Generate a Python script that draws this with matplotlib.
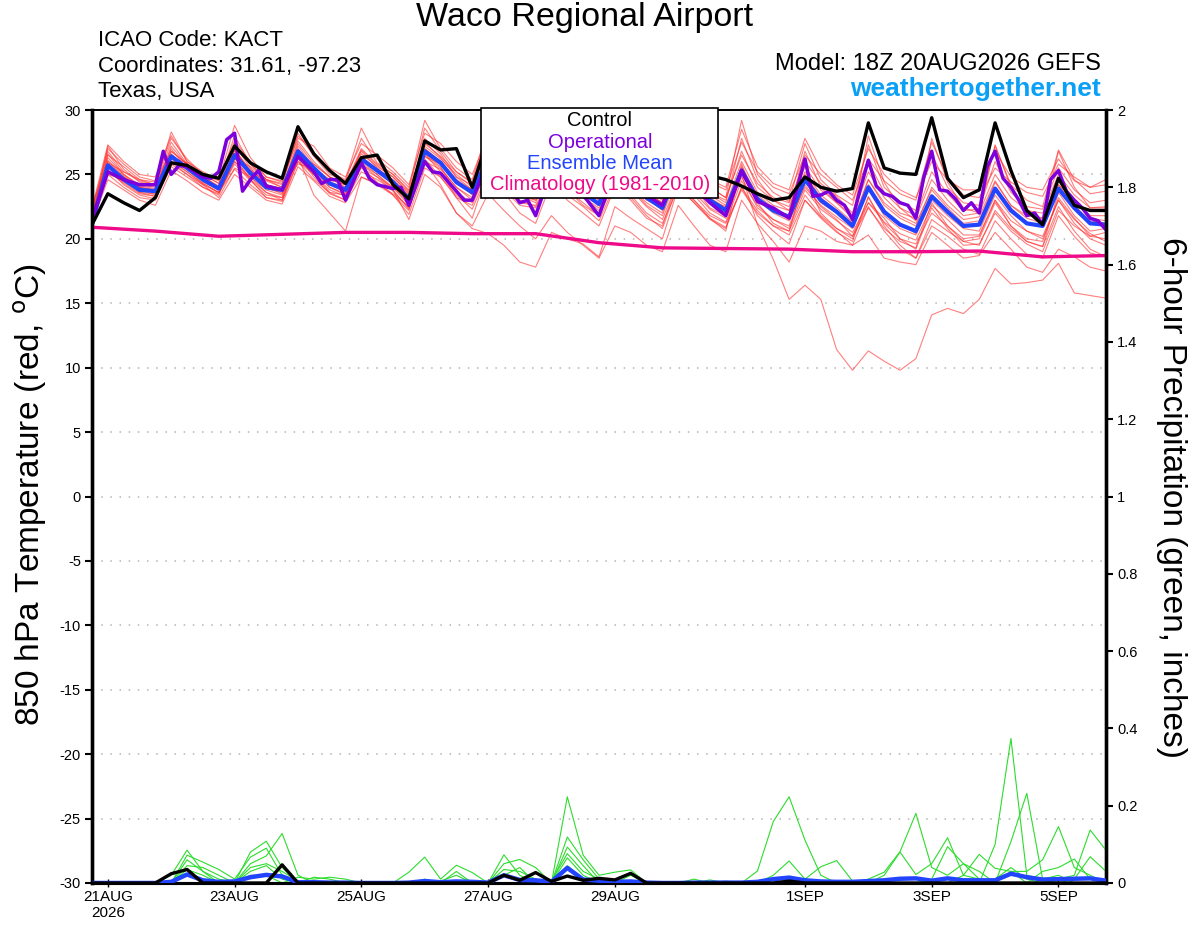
import matplotlib
matplotlib.use("Agg")
import matplotlib.pyplot as plt
import numpy as np
from matplotlib.patches import Rectangle

plt.rcParams["font.family"] = ["Liberation Sans", "DejaVu Sans"]
plt.rcParams["axes.unicode_minus"] = False

# 6-hourly steps from 18Z 20AUG2026 (hours since run start)
n_steps = 65
hours = np.arange(n_steps) * 6

tick_hours = [6, 54, 102, 150, 198, 270, 318, 366]
tick_labels = ["21AUG\n2026", "23AUG", "25AUG", "27AUG", "29AUG", "1SEP", "3SEP", "5SEP"]

# 850 hPa temperature (C)
control_temp = [21.1,
                23.5, 22.8, 22.2, 23.2, 25.9, 25.7, 25.0, 24.7, 27.2, 25.9, 25.2, 24.7, 28.7, 26.6, 25.3, 24.3,
                26.3, 26.5, 24.2, 23.1, 27.6, 26.9, 27.0, 24.0, 27.8, 26.5, 25.5, 25.0, 26.5, 25.8, 25.2, 24.8,
                26.8, 26.0, 25.6, 25.2, 26.2, 25.5, 24.9, 24.6, 24.1, 23.5, 23.0, 23.2, 24.8, 24.0, 23.7, 23.9,
                29.0, 25.5, 25.1, 25.0, 29.4, 24.7, 23.2, 23.8, 29.0, 25.3, 22.2, 21.1, 24.7, 22.6, 22.2, 22.2]

mean_temp = [21.2,
             25.7, 24.6, 23.8, 23.7, 26.4, 25.5, 24.6, 23.9, 26.5, 25.1, 24.0, 23.8, 26.8, 25.5, 24.3, 23.8,
             26.2, 25.3, 24.4, 23.1, 26.8, 25.9, 24.4, 23.6, 26.3, 25.0, 23.8, 23.4, 25.6, 24.6, 23.6, 22.7,
             25.6, 24.6, 23.2, 22.4, 25.6, 24.2, 23.0, 22.2, 25.3, 23.1, 22.2, 21.7, 24.6, 23.0, 22.1, 21.0,
             24.0, 22.1, 21.1, 20.6, 23.3, 22.1, 21.0, 21.1, 23.9, 22.2, 21.2, 21.0, 23.9, 22.4, 21.2, 21.1]

op_hours = [0, 6, 12, 18, 24, 27, 30, 33, 36, 42, 45, 48, 51, 54, 57, 60, 63, 66, 72, 78, 84, 87, 90, 93,
            96, 102, 105, 108, 114, 117, 120, 126, 129, 132, 138, 141, 144, 150, 156, 162, 165, 168, 174,
            180, 186, 192, 198, 204, 210, 216, 222, 228, 234, 240, 246, 252, 258, 264, 270, 273, 276, 279,
            282, 285, 288, 291, 294, 297, 300, 303, 306, 309, 312, 315, 318, 321, 324, 327, 330, 333, 336,
            339, 342, 345, 348, 351, 354, 357, 360, 363, 366, 369, 372, 375, 378, 381, 384]
op_temp = [21.5, 25.2, 24.6, 24.2, 24.2, 26.8, 25.0, 25.7, 25.6, 24.8, 24.7, 25.2, 27.7, 28.2, 23.7, 24.6,
           25.3, 24.1, 23.8, 26.4, 25.2, 24.3, 24.6, 24.6, 23.0, 25.9, 24.7, 24.2, 23.9, 24.0, 22.6, 26.0,
           25.2, 25.1, 23.7, 23.0, 23.0, 26.0, 24.6, 22.8, 23.0, 21.8, 25.4, 24.4, 23.4, 21.8, 25.3, 24.3,
           23.4, 22.6, 25.7, 24.0, 22.8, 21.8, 25.3, 22.9, 22.4, 21.6, 26.2, 23.3, 23.4, 23.7, 23.0, 22.6,
           21.5, 23.9, 26.1, 24.1, 23.5, 23.3, 22.8, 22.6, 21.6, 24.8, 26.8, 23.8, 23.7, 23.1, 22.2, 22.8,
           22.0, 25.6, 26.8, 24.7, 24.0, 23.0, 21.8, 22.0, 21.1, 24.6, 25.3, 23.7, 23.0, 22.4, 21.6, 21.4,
           20.7]

clim_hours = [0, 24, 48, 72, 96, 120, 144, 168, 192, 216, 240, 264, 288, 312, 336, 360, 384]
clim_temp = [20.9, 20.6, 20.2, 20.35, 20.5, 20.5, 20.4, 20.4, 19.7, 19.3, 19.25, 19.2, 19.0, 19.0, 19.05,
             18.6, 18.7]

# ensemble members (temperature)
t01 = [21.6, 27.2, 25.4, 24.4, 24.1, 28.3, 26.0, 25.0, 24.3, 28.0, 25.8, 24.6, 24.2, 28.2, 26.4, 25.0, 24.5,
       27.8, 25.9, 25.0, 23.8, 28.6, 26.8, 25.2, 24.4, 28.2, 26.0, 24.6, 24.0, 27.5, 25.6, 24.4, 23.6,
       28.3, 25.9, 24.2, 23.5, 27.6, 25.3, 24.0, 23.2, 29.2, 25.0, 23.6, 22.9, 27.4, 24.6, 23.4, 22.6,
       27.3, 24.0, 22.9, 22.2, 26.6, 24.0, 22.8, 22.6, 27.2, 24.2, 23.0, 22.5, 26.9, 24.6, 23.5, 23.7]
t02 = [21.3, 25.0, 24.0, 23.2, 23.0, 26.0, 25.0, 24.0, 23.4, 26.3, 24.6, 23.6, 23.2, 26.4, 23.4, 22.0, 20.6,
       24.8, 24.3, 23.5, 22.5, 26.0, 25.4, 24.0, 23.0, 25.5, 24.2, 23.0, 22.5, 24.6, 23.8, 22.8, 21.8,
       24.8, 23.8, 22.5, 21.5, 24.5, 23.4, 22.0, 21.3, 24.5, 22.6, 21.5, 20.8, 23.8, 22.3, 21.4, 20.5,
       22.8, 21.3, 20.4, 19.9, 22.6, 21.5, 20.3, 20.3, 23.0, 21.4, 20.6, 20.2, 23.0, 21.5, 20.4, 19.8]
t03 = [21.0, 25.5, 24.8, 24.0, 23.8, 26.8, 25.8, 24.9, 24.0, 26.2, 25.3, 24.5, 24.0, 26.4, 25.8, 24.8, 24.2,
       26.6, 25.6, 24.8, 23.5, 27.2, 26.2, 25.0, 24.0, 26.8, 25.4, 24.3, 23.8, 26.0, 25.0, 24.0, 23.3,
       26.0, 25.0, 23.6, 22.8, 25.8, 24.2, 23.0, 22.5, 25.0, 21.1, 18.4, 15.3, 16.4, 15.3, 11.4, 9.8,
       11.3, 10.5, 9.8, 10.7, 14.1, 14.6, 14.2, 15.3, 17.7, 16.5, 16.6, 16.8, 18.1, 15.8, 15.6, 15.4]
t04 = [21.8, 26.3, 25.0, 24.2, 24.0, 27.0, 25.4, 24.3, 23.6, 26.0, 24.8, 23.8, 23.4, 26.5, 25.4, 24.0, 23.5,
       25.8, 25.0, 24.0, 22.6, 26.0, 24.2, 22.0, 20.8, 20.4, 19.5, 18.2, 17.8, 20.5, 20.0, 19.6, 18.6,
       22.5, 21.6, 20.8, 20.0, 24.0, 22.8, 21.5, 20.8, 24.0, 22.2, 21.0, 20.3, 23.0, 21.6, 20.5, 19.8,
       23.3, 21.0, 19.5, 18.5, 21.5, 20.6, 19.8, 19.5, 22.2, 20.8, 19.8, 19.4, 22.5, 20.6, 19.2, 18.6]
t05 = [22.0, 26.8, 25.2, 24.5, 24.2, 27.5, 25.8, 24.8, 24.1, 27.3, 25.5, 24.2, 23.9, 27.4, 25.8, 24.8, 24.0,
       26.9, 25.7, 24.8, 23.6, 27.5, 26.3, 24.8, 24.2, 27.0, 25.6, 24.3, 24.0, 26.8, 25.5, 24.6, 23.8,
       27.2, 25.6, 24.0, 23.2, 27.0, 25.2, 24.0, 23.2, 26.5, 24.3, 23.2, 22.8, 26.0, 24.3, 23.3, 22.0,
       26.0, 23.6, 22.4, 21.8, 25.2, 23.5, 22.2, 22.3, 26.0, 23.6, 22.5, 22.3, 25.5, 23.8, 22.8, 23.0]
t06 = [21.4, 25.3, 24.3, 23.5, 23.3, 26.0, 25.2, 24.3, 23.6, 25.8, 24.5, 23.4, 23.2, 26.2, 25.0, 23.8, 23.3,
       25.5, 24.8, 24.0, 22.8, 26.4, 25.5, 24.0, 23.2, 26.0, 24.6, 23.3, 23.0, 25.0, 24.0, 23.2, 22.2,
       24.8, 24.0, 22.6, 21.8, 25.0, 23.6, 22.3, 21.6, 24.8, 22.4, 21.5, 21.0, 24.2, 22.5, 21.5, 20.2,
       23.2, 21.2, 20.0, 19.6, 22.0, 21.0, 19.8, 20.0, 22.8, 21.0, 20.0, 19.8, 23.2, 21.6, 20.2, 20.0]
t07 = [21.2, 24.6, 23.8, 23.0, 22.6, 25.3, 24.5, 23.6, 23.0, 25.0, 24.0, 23.0, 22.7, 25.6, 24.5, 23.3, 22.8,
       24.8, 24.2, 23.4, 21.9, 25.5, 24.8, 23.4, 22.3, 25.2, 23.8, 22.6, 22.4, 24.0, 23.4, 22.5, 21.4,
       24.2, 23.2, 21.8, 20.8, 24.2, 22.8, 21.6, 20.9, 24.0, 21.8, 20.6, 19.6, 23.0, 21.7, 20.6, 19.5,
       22.5, 20.6, 19.2, 18.5, 21.0, 20.2, 19.2, 18.8, 21.4, 20.0, 18.8, 18.5, 21.8, 20.2, 18.9, 18.6]
t08 = [21.5, 26.0, 24.8, 24.0, 23.8, 26.6, 25.4, 24.6, 23.9, 27.0, 25.2, 24.2, 23.8, 27.2, 25.6, 24.4, 24.0,
       26.4, 25.4, 24.6, 23.4, 27.0, 26.0, 24.6, 23.8, 27.5, 25.6, 24.0, 23.5, 28.0, 25.8, 24.4, 23.2,
       27.6, 25.4, 23.6, 22.8, 28.3, 25.6, 23.6, 22.8, 27.8, 24.6, 23.0, 22.2, 26.8, 24.0, 22.8, 21.6,
       28.0, 24.4, 22.4, 21.4, 27.8, 24.4, 22.4, 22.0, 27.3, 24.0, 22.0, 21.6, 26.8, 24.0, 22.4, 22.5]
t09 = [22.2, 27.0, 25.8, 24.8, 24.5, 27.8, 26.2, 25.0, 24.5, 28.8, 26.3, 24.8, 24.4, 28.0, 26.6, 25.2, 24.6,
       28.6, 26.2, 25.2, 24.0, 29.2, 27.0, 25.5, 24.6, 28.6, 26.3, 25.0, 24.6, 27.8, 26.0, 25.0, 24.2,
       28.6, 26.4, 24.6, 24.0, 27.0, 25.6, 24.4, 23.8, 27.5, 25.2, 24.0, 23.5, 26.5, 25.0, 24.0, 23.0,
       26.2, 24.5, 23.5, 23.0, 27.5, 24.8, 23.4, 23.2, 25.5, 24.4, 23.6, 23.3, 25.8, 24.8, 24.0, 24.6]
t10 = [21.0, 25.8, 24.6, 23.6, 23.5, 26.4, 25.6, 24.8, 24.0, 26.6, 25.0, 23.9, 23.6, 26.9, 25.2, 24.0, 23.4,
       26.0, 25.0, 23.8, 21.5, 25.0, 24.0, 22.0, 21.0, 23.5, 22.2, 21.0, 20.0, 21.8, 20.5, 19.5, 18.5,
       21.0, 20.5, 19.5, 19.0, 22.6, 21.0, 19.5, 19.0, 23.0, 21.2, 19.8, 18.2, 21.0, 20.6, 19.8, 19.5,
       20.3, 18.5, 18.2, 18.0, 20.5, 19.5, 18.5, 18.7, 20.5, 19.2, 17.8, 17.4, 19.2, 18.6, 17.8, 17.5]
t11 = [21.7, 26.6, 25.0, 24.1, 23.9, 27.2, 25.7, 24.5, 24.0, 26.8, 25.4, 24.2, 23.9, 27.0, 25.2, 24.6, 24.2,
       26.8, 25.5, 24.5, 23.3, 27.0, 26.0, 24.3, 23.6, 26.5, 25.2, 24.0, 23.8, 26.3, 25.0, 24.0, 23.0,
       26.0, 25.0, 23.4, 22.6, 26.3, 24.5, 23.4, 22.6, 26.0, 23.6, 22.6, 22.2, 25.2, 23.4, 22.4, 21.3,
       24.6, 22.6, 21.6, 21.0, 24.0, 22.6, 21.5, 21.7, 24.5, 22.6, 21.8, 21.6, 24.5, 22.8, 21.8, 21.8]
t12 = [21.9, 25.0, 24.6, 23.8, 23.4, 25.8, 25.0, 24.2, 23.2, 25.5, 24.8, 23.6, 23.0, 26.0, 25.0, 23.6, 23.0,
       25.8, 24.8, 23.7, 22.4, 26.4, 25.8, 24.6, 23.4, 25.8, 24.4, 23.4, 22.8, 25.5, 24.4, 23.2, 22.4,
       25.0, 24.0, 22.8, 22.0, 25.3, 24.0, 22.4, 21.8, 25.0, 23.0, 22.0, 21.4, 24.0, 22.6, 21.7, 20.8,
       23.8, 21.8, 20.8, 20.3, 23.0, 21.8, 20.8, 20.6, 23.4, 21.8, 20.6, 20.0, 23.0, 21.2, 20.0, 19.5]
t13 = [21.3, 26.1, 24.9, 24.0, 23.6, 26.5, 25.6, 24.7, 23.8, 26.9, 25.2, 24.0, 23.5, 26.6, 25.6, 24.2, 23.6,
       26.2, 25.4, 24.4, 23.0, 27.8, 26.6, 24.8, 23.8, 26.0, 24.8, 23.6, 23.0, 25.2, 24.4, 23.4, 22.6,
       25.6, 24.8, 23.2, 22.2, 25.0, 24.0, 22.8, 22.0, 25.5, 23.2, 22.2, 21.8, 24.5, 22.8, 22.0, 21.0,
       24.2, 22.2, 21.2, 20.4, 23.4, 22.2, 21.0, 21.2, 24.0, 22.4, 21.2, 21.0, 24.2, 22.6, 21.4, 21.2]
t14 = [21.1, 25.4, 24.2, 23.4, 23.1, 25.6, 24.8, 24.0, 23.5, 26.0, 24.6, 23.2, 23.0, 26.5, 24.8, 23.5, 23.0,
       25.2, 24.6, 23.8, 22.3, 26.2, 24.8, 23.2, 21.6, 25.4, 23.6, 22.0, 21.2, 24.4, 23.0, 22.0, 21.0,
       24.0, 23.0, 21.6, 21.0, 24.6, 23.0, 21.6, 20.6, 25.8, 22.8, 21.2, 20.6, 24.8, 22.0, 20.8, 20.0,
       22.8, 21.6, 20.0, 19.2, 22.4, 20.8, 19.5, 19.6, 22.0, 20.6, 19.6, 19.0, 22.2, 21.0, 20.2, 20.5]
t15 = [22.4, 27.3, 26.0, 25.0, 24.8, 28.0, 26.0, 25.2, 24.6, 27.6, 26.0, 24.8, 24.5, 27.8, 27.2, 25.5, 24.8,
       27.4, 26.5, 25.5, 24.2, 28.2, 27.4, 26.0, 25.0, 28.0, 26.6, 25.5, 25.0, 28.4, 26.5, 25.2, 24.6,
       27.8, 26.2, 24.8, 24.3, 27.8, 26.0, 24.6, 24.0, 28.5, 25.6, 24.3, 23.8, 27.8, 25.4, 24.2, 23.4,
       27.0, 25.0, 23.8, 23.2, 26.0, 24.6, 23.8, 23.8, 26.8, 24.8, 24.0, 23.8, 26.2, 24.5, 24.0, 24.2]
t16 = [21.5, 25.2, 24.4, 23.6, 23.3, 26.2, 25.2, 24.2, 23.6, 25.4, 24.2, 23.2, 22.9, 26.0, 24.6, 23.6, 23.4,
       25.6, 24.4, 23.4, 22.2, 26.6, 25.2, 23.2, 22.6, 25.6, 24.0, 22.8, 22.6, 24.8, 23.8, 22.6, 21.8,
       24.4, 23.4, 22.0, 21.2, 24.0, 23.0, 21.8, 21.2, 23.8, 22.0, 21.0, 20.6, 23.4, 21.8, 20.8, 20.2,
       22.4, 20.8, 19.8, 19.3, 22.8, 21.0, 20.0, 20.2, 23.0, 21.0, 19.8, 19.4, 23.6, 21.8, 20.6, 20.8]
t17 = [21.6, 26.5, 25.6, 24.6, 24.4, 26.8, 25.8, 25.0, 24.3, 27.4, 25.8, 24.6, 24.0, 27.6, 26.0, 24.8, 24.3,
       27.0, 25.8, 25.0, 23.7, 27.4, 26.4, 25.2, 24.3, 26.8, 25.6, 24.8, 24.4, 26.0, 25.4, 24.6, 23.6,
       26.4, 25.4, 23.8, 23.0, 26.6, 25.0, 23.6, 23.0, 26.8, 24.0, 23.0, 22.5, 25.6, 23.8, 22.8, 21.8,
       25.2, 23.2, 22.0, 21.6, 24.6, 23.0, 21.8, 22.0, 25.0, 23.2, 22.2, 22.0, 25.0, 23.4, 22.4, 22.4]
t18 = [22.6, 25.9, 25.2, 24.6, 24.2, 26.3, 25.9, 24.4, 23.8, 26.2, 25.6, 24.6, 24.3, 25.8, 25.5, 24.6, 24.2,
       26.4, 25.2, 24.2, 23.2, 26.6, 25.6, 23.6, 22.8, 26.2, 24.8, 23.6, 23.2, 25.8, 24.8, 24.0, 23.0,
       25.4, 24.4, 23.0, 22.4, 26.0, 24.6, 23.2, 22.4, 25.6, 23.4, 22.4, 21.8, 25.0, 23.2, 22.2, 21.2,
       24.6, 22.8, 21.8, 21.2, 23.8, 22.4, 21.2, 21.4, 24.4, 22.6, 21.6, 21.2, 24.2, 23.0, 21.6, 21.4]
temp_members = [t01, t02, t03, t04, t05, t06, t07, t08, t09, t10, t11, t12, t13, t14, t15, t16, t17, t18]

# 6-hour precipitation (inches)
control_precip = [0, 0, 0, 0, 0, 0.024, 0.035, 0, 0, 0, 0, 0, 0.047, 0, 0, 0, 0,
                  0, 0, 0, 0, 0, 0, 0, 0, 0, 0.02, 0.007, 0.027, 0.004, 0.018, 0.007, 0.012,
                  0.008, 0.025, 0, 0, 0, 0, 0, 0, 0, 0, 0, 0.005, 0, 0, 0, 0,
                  0, 0, 0, 0, 0, 0, 0, 0, 0, 0, 0, 0, 0, 0, 0, 0]
mean_precip = [0, 0, 0, 0, 0, 0.003, 0.022, 0.007, 0.003, 0.004, 0.015, 0.021, 0.017, 0.002, 0.002, 0.001, 0.001,
               0, 0, 0, 0.001, 0.005, 0.002, 0.004, 0.003, 0.001, 0.02, 0.008, 0.007, 0.003, 0.039, 0.009, 0.006,
               0.003, 0.004, 0.001, 0, 0, 0.001, 0.001, 0.001, 0.001, 0.003, 0.01, 0.014, 0.007, 0.004, 0.003, 0.003,
               0.005, 0.007, 0.011, 0.012, 0.006, 0.012, 0.007, 0.007, 0.007, 0.024, 0.015, 0.009, 0.01, 0.011, 0.012, 0.006]

# ensemble members (precipitation): (step, value) pairs, zero elsewhere
g01 = [(5, 0.02), (6, 0.085), (7, 0.03), (8, 0.01), (10, 0.08), (11, 0.108), (12, 0.04),
       (42, 0.031), (43, 0.159), (44, 0.223), (45, 0.111), (46, 0.02)]
g02 = [(6, 0.072), (7, 0.054), (8, 0.035), (9, 0.01), (10, 0.067), (11, 0.09), (12, 0.02),
       (43, 0.02), (44, 0.057), (45, 0.01), (46, 0.042), (47, 0.058), (48, 0.005)]
g03 = [(6, 0.06), (7, 0.03), (10, 0.05), (11, 0.07), (12, 0.128), (13, 0.02),
       (49, 0.01), (50, 0.028), (51, 0.081), (52, 0.18), (53, 0.04), (54, 0.02), (55, 0.05), (56, 0.03)]
g04 = [(6, 0.045), (7, 0.04), (8, 0.02), (10, 0.04), (11, 0.05), (12, 0.03), (13, 0.005),
       (50, 0.02), (51, 0.08), (52, 0.022), (53, 0.05), (54, 0.117), (55, 0.02), (56, 0.074), (57, 0.038),
       (58, 0.03)]
g05 = [(6, 0.035), (7, 0.02), (10, 0.03), (11, 0.045), (12, 0.01), (14, 0.015), (15, 0.01),
       (53, 0.01), (54, 0.094), (55, 0.05), (56, 0.01), (58, 0.107), (59, 0.232), (60, 0.01), (61, 0.02)]
g06 = [(6, 0.02), (7, 0.01), (10, 0.02), (11, 0.02), (13, 0.015), (14, 0.01), (15, 0.015), (16, 0.01),
       (57, 0.1), (58, 0.374), (59, 0.02), (60, 0.01)]
g07 = [(20, 0.028), (21, 0.067), (22, 0.01), (23, 0.046), (24, 0.027), (26, 0.073), (27, 0.02),
       (30, 0.223), (31, 0.072), (32, 0.02), (33, 0.028), (34, 0.034),
       (55, 0.02), (56, 0.01), (58, 0.03), (59, 0.03), (60, 0.06), (61, 0.146), (62, 0.04), (63, 0.02)]
g08 = [(21, 0.01), (23, 0.03), (26, 0.05), (27, 0.061), (28, 0.04), (30, 0.119), (31, 0.06), (32, 0.01),
       (60, 0.03), (61, 0.04), (62, 0.062), (63, 0.01)]
g09 = [(22, 0.005), (23, 0.02), (26, 0.035), (27, 0.03), (28, 0.01), (30, 0.093), (31, 0.045), (34, 0.02),
       (61, 0.01), (62, 0.02), (63, 0.137), (64, 0.085)]
g10 = [(26, 0.02), (27, 0.04), (29, 0.005), (30, 0.076), (31, 0.03), (32, 0.01),
       (62, 0.01), (63, 0.068), (64, 0.03)]
g11 = [(30, 0.065), (31, 0.02), (38, 0.01), (40, 0.005), (57, 0.01), (58, 0.04), (59, 0.01)]
g12 = [(30, 0.045), (31, 0.01), (33, 0.005), (39, 0.008), (45, 0.01), (49, 0.005)]
precip_members = [g01, g02, g03, g04, g05, g06, g07, g08, g09, g10, g11, g12]


def expand(pairs):
    arr = np.zeros(n_steps)
    for step, val in pairs:
        arr[step] = val
    return arr


RED = "#ff2a2a"
GREEN = "#2ddc2d"
PURPLE = "#7d00dc"
BLUE = "#2244ff"
MAGENTA = "#ee0a88"

fig = plt.figure(figsize=(12, 9.27), dpi=100)
ax = fig.add_axes([92 / 1200, 44 / 927, 1014 / 1200, 773 / 927])
ax2 = ax.twinx()

for m in temp_members:
    ax.plot(hours, m, color=RED, lw=0.8, alpha=0.6, zorder=2)
ax.plot(clim_hours, clim_temp, color=MAGENTA, lw=2.4, zorder=3)
ax.plot(hours, mean_temp, color=BLUE, lw=3.0, zorder=4)
ax.plot(op_hours, op_temp, color=PURPLE, lw=2.5, zorder=5)
ax.plot(hours, control_temp, color="black", lw=2.4, zorder=6)

for pm in precip_members:
    ax2.plot(hours, expand(pm), color=GREEN, lw=0.8, zorder=2)
ax2.plot(hours, mean_precip, color=BLUE, lw=3.2, zorder=4)
ax2.plot(hours, control_precip, color="black", lw=2.4, zorder=5)

ax.set_xlim(0, 384)
ax.set_ylim(-30, 30)
ax2.set_ylim(0, 2)
ax.set_yticks(np.arange(-30, 31, 5))
ax2.set_yticks(np.arange(0, 2.01, 0.2))
ax2.set_yticklabels(["0", "0.2", "0.4", "0.6", "0.8", "1", "1.2", "1.4", "1.6", "1.8", "2"])
ax.set_xticks(tick_hours)
ax.set_xticklabels(tick_labels)

ax.yaxis.grid(True, color="#b4b4b4", linestyle=(0, (1, 5)), lw=1.1)
ax.set_axisbelow(True)

ax.tick_params(axis="y", direction="out", length=5, width=1.5, labelsize=10.5, pad=3)
ax2.tick_params(axis="y", direction="out", length=5, width=1.5, labelsize=10.5, pad=3)
ax.tick_params(axis="x", direction="inout", length=6, width=1, labelsize=11, pad=2)

for a in (ax, ax2):
    a.spines["left"].set_linewidth(2.4)
    a.spines["right"].set_linewidth(2.4)
    a.spines["top"].set_linewidth(1.2)
    a.spines["bottom"].set_linewidth(2.2)

fig.text(0.025, 0.466, r"850 hPa Temperature (red, $^{\rm o}$C)", rotation=90,
         ha="center", va="center", fontsize=24)
fig.text(0.976, 0.463, "6-hour Precipitation (green, inches)", rotation=-90,
         ha="center", va="center", fontsize=24)

fig.text(0.4875, 0.9806, "Waco Regional Airport", ha="center", va="center", fontsize=24.5)
fig.text(98 / 1200, 0.9568, "ICAO Code: KACT", ha="left", va="center", fontsize=16)
fig.text(98 / 1200, 0.9288, "Coordinates: 31.61, -97.23", ha="left", va="center", fontsize=16)
fig.text(98 / 1200, 0.9008, "Texas, USA", ha="left", va="center", fontsize=16)
fig.text(1101 / 1200, 0.931, "Model: 18Z 20AUG2026 GEFS", ha="right", va="center", fontsize=17)
fig.text(1101 / 1200, 0.904, "weathertogether.net", ha="right", va="center", fontsize=19,
         fontweight="bold", color="#0aa0f5")

# legend box
fig.add_artist(Rectangle((481 / 1200, 729 / 927), 237 / 1200, 90 / 927, transform=fig.transFigure,
                         facecolor="white", edgecolor="black", lw=1.2, zorder=5))
leg_items = [("Control", "black"), ("Operational", PURPLE), ("Ensemble Mean", BLUE),
             ("Climatology (1981-2010)", MAGENTA)]
for k, (txt, col) in enumerate(leg_items):
    fig.text(600 / 1200, 1 - (121 + 21.3 * k) / 927, txt, color=col, ha="center", va="center",
             fontsize=14.5, zorder=6)

fig.savefig("out.png", dpi=100)
